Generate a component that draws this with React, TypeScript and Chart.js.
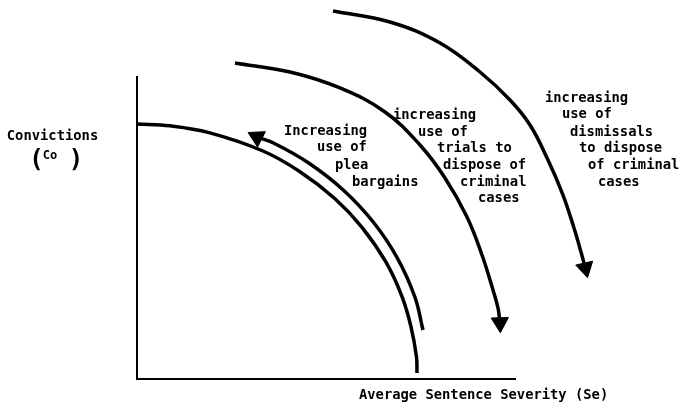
import React, { useEffect, useRef } from "react";
import { Chart, registerables } from "chart.js";

Chart.register(...registerables);

// ---- Data (Se = average sentence severity, Co = convictions) ----
// Conviction / sentence-severity frontier
const frontierSe = [0, 8.73, 19.05, 33.33, 43.12, 52.38, 59.52, 65.87, 70.11, 72.49, 73.94, 74.07];
const frontierCo = [67.55, 67.07, 65.27, 60.4, 54.91, 47.76, 40.19, 30.94, 21.83, 13.83, 5.83, 1.59];

// Arrow: increasing use of plea bargains (runs up-left; last point = arrowhead)
const pleaSe = [75.66, 73.47, 68.84, 62.49, 54.63, 45.42, 36.24, 31.75];
const pleaCo = [12.98, 21.85, 32.11, 41.59, 50.01, 57.22, 62.46, 64.08];

// Arrow: increasing use of trials (runs down-right; last point = arrowhead)
const trialsSe = [25.93, 40.48, 53.7, 65.61, 74.87, 81.48, 87.3, 91.27, 94.18, 95.5, 96.03];
const trialsCo = [83.71, 81.32, 77.09, 70.73, 61.99, 53.25, 42.91, 32.85, 23.58, 18.81, 14.91];

// Arrow: increasing use of dismissals (runs down-right; last point = arrowhead)
const dismissSe = [51.85, 66.93, 80.16, 90.74, 98.68, 103.97, 108.73, 112.7, 115.61, 117.46, 118.6];
const dismissCo = [97.48, 94.57, 89.01, 81.32, 73.91, 67.28, 58.01, 48.74, 40.0, 33.64, 29.4];

// Text
const yTitleLine = "Convictions";
const yTitleSymbol = "Co";
const xTitle = "Average Sentence Severity (Se)";
const pleaLabel = ["Increasing", "use of", "plea", "bargains"];
const trialsLabel = ["increasing", "use of", "trials to", "dispose of", "criminal", "cases"];
const dismissLabel = ["increasing", "use of", "dismissals", "to dispose", "of criminal", "cases"];

// ---- Layout (pixels; kept apart from data) ----
const W = 687;
const H = 406;
const pleaPos = [[284, 131], [317, 147], [335, 165], [352, 182]];
const trialsPos = [[393, 115], [418, 132], [437, 148], [443, 165], [460, 182], [478, 198]];
const dismissPos = [[545, 98], [562, 114], [570, 132], [579, 148], [588, 165], [598, 182]];
const FONT = '"DejaVu Sans Mono", "Liberation Mono", monospace';

const toPts = (xs: number[], ys: number[]) => xs.map((x, i) => ({ x, y: ys[i] }));

// The arrowhead sits on the last listed point; points are handed to Chart.js
// head-first so that nothing is trimmed when the curve leaves the axis range.
const arrowSet = (xs: number[], ys: number[], rot: number) => ({
  data: toPts(xs, ys).reverse(),
  showLine: true,
  borderColor: "#000",
  backgroundColor: "#000",
  borderWidth: 3.5,
  tension: 0.4,
  clip: false as const,
  pointStyle: "triangle" as const,
  pointRotation: rot,
  pointBorderWidth: 1,
  pointBorderColor: "#000",
  pointBackgroundColor: "#000",
  pointRadius: (c: any) => (c.dataIndex === 0 ? 10 : 0),
  pointHoverRadius: (c: any) => (c.dataIndex === 0 ? 10 : 0),
});

// Marks of this diagram run past the axis box: let the dataset pass
// draw over the whole canvas, then restore the real chart area.
let savedArea: any = null;
const openAreaPlugin = {
  id: "openArea",
  beforeDatasetsDraw(chart: any) {
    const a = chart.chartArea;
    savedArea = { left: a.left, right: a.right, top: a.top, bottom: a.bottom };
    a.left = 0;
    a.top = 0;
    a.right = chart.width;
    a.bottom = chart.height;
  },
  afterDatasetsDraw(chart: any) {
    if (savedArea) Object.assign(chart.chartArea, savedArea);
    savedArea = null;
  },
};

const textPlugin = {
  id: "diagramText",
  afterDraw(chart: any) {
    const ctx = chart.ctx as CanvasRenderingContext2D;
    ctx.save();
    ctx.fillStyle = "#000";
    ctx.textBaseline = "middle";
    ctx.textAlign = "left";
    ctx.font = `bold 13.8px ${FONT}`;
    const block = (lines: string[], pos: number[][]) =>
      lines.forEach((t, i) => ctx.fillText(t, pos[i][0], pos[i][1]));
    block(pleaLabel, pleaPos);
    block(trialsLabel, trialsPos);
    block(dismissLabel, dismissPos);
    ctx.fillText(xTitle, 359, 395);
    ctx.textAlign = "center";
    ctx.fillText(yTitleLine, 52.5, 136);
    ctx.font = `bold 12px ${FONT}`;
    ctx.fillText(yTitleSymbol, 50, 156);
    ctx.font = `bold 24px ${FONT}`;
    ctx.fillText("(", 36.5, 161);
    ctx.fillText(")", 76, 161);
    ctx.restore();
  },
};

export default function App() {
  const ref = useRef<HTMLCanvasElement | null>(null);
  useEffect(() => {
    if (!ref.current) return;
    const chart = new Chart(ref.current, {
      type: "scatter",
      data: {
        datasets: [
          {
            data: toPts(frontierSe, frontierCo),
            showLine: true,
            borderColor: "#000",
            borderWidth: 3.5,
            tension: 0.4,
            clip: false as const,
            pointRadius: 0,
            pointHoverRadius: 0,
          },
          arrowSet(pleaSe, pleaCo, -63),
          arrowSet(trialsSe, trialsCo, 178),
          arrowSet(dismissSe, dismissCo, 167),
        ] as any,
      },
      options: {
        animation: false,
        responsive: true,
        maintainAspectRatio: false,
        events: [],
        layout: { padding: { left: 137, top: 77, right: 172, bottom: 27 } },
        elements: { line: { capBezierPoints: false } },
        plugins: {
          legend: { display: false },
          tooltip: { enabled: false },
          title: { display: false },
        },
        scales: {
          x: {
            type: "linear",
            min: 0,
            max: 100,
            grid: { display: false, drawTicks: false },
            ticks: { display: false },
            border: { display: true, color: "#000", width: 2 },
          },
          y: {
            type: "linear",
            min: 0,
            max: 80,
            grid: { display: false, drawTicks: false },
            ticks: { display: false },
            border: { display: true, color: "#000", width: 2 },
          },
        },
      },
      plugins: [openAreaPlugin, textPlugin],
    });
    return () => chart.destroy();
  }, []);
  return (
    <div style={{ position: "fixed", left: 0, top: 0, width: W, height: H, background: "#fff" }}>
      <canvas ref={ref} />
    </div>
  );
}
